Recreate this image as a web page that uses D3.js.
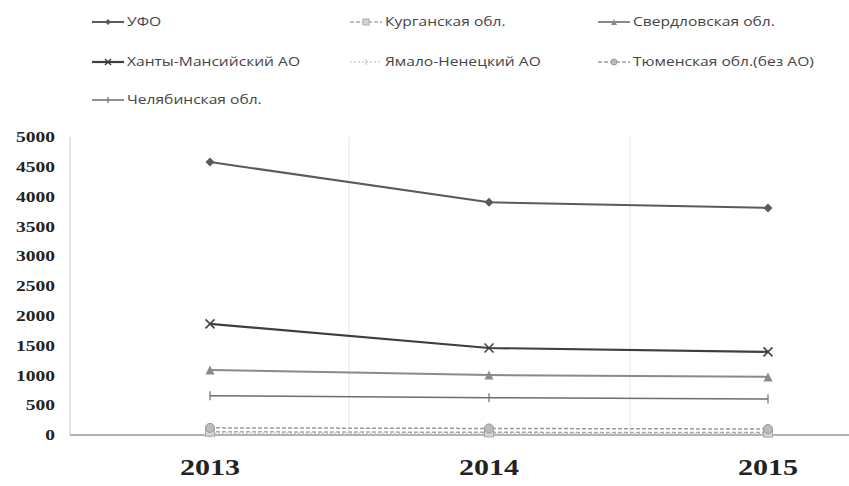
<!DOCTYPE html>
<html>
<head>
<meta charset="utf-8">
<script src="https://cdn.jsdelivr.net/npm/d3@7"></script>
<style>
  body { margin: 0; background: #fff; }
  svg { display: block; }
</style>
</head>
<body>
<div id="plot"></div>
<script>
// data
const years = ["2013", "2014", "2015"];
const seriesNames = ["УФО", "Курганская обл.", "Свердловская обл.", "Ханты-Мансийский АО",
  "Ямало-Ненецкий АО", "Тюменская обл.(без АО)", "Челябинская обл."];
const ufo = [4580, 3905, 3810];
const kurgan = [55, 45, 40];
const sverdl = [1090, 1005, 975];
const hmao = [1865, 1460, 1395];
const yanao = [30, 25, 20];
const tyumen = [120, 110, 100];
const chelyab = [660, 625, 605];
const yTicks = [0, 500, 1000, 1500, 2000, 2500, 3000, 3500, 4000, 4500, 5000];

const values = [ufo, kurgan, sverdl, hmao, yanao, tyumen, chelyab];

const styles = [
  { color: "#5a5a5a", width: 2, dash: null, marker: "diamond" },
  { color: "#aaa", width: 1.5, dash: "4,2", marker: "square" },
  { color: "#8a8a8a", width: 2, dash: null, marker: "triangle" },
  { color: "#3e3e3e", width: 2.2, dash: null, marker: "cross" },
  { color: "#cfcfcf", width: 1.5, dash: "2,2", marker: "plus" },
  { color: "#9a9a9a", width: 1.5, dash: "4,2", marker: "circle" },
  { color: "#6e6e6e", width: 1.5, dash: null, marker: "plus" }
];

const width = 849, height = 486;
const svg = d3.select("#plot").append("svg")
  .attr("width", width).attr("height", height);

const x = d3.scalePoint().domain(years).range([210, 768]);
const y = d3.scaleLinear().domain([0, 5000]).range([435, 137]);

// vertical gridlines between categories
svg.selectAll(".grid")
  .data([349, 630])
  .join("line")
  .attr("x1", d => d).attr("x2", d => d)
  .attr("y1", 137).attr("y2", 435)
  .attr("stroke", "#e4e4e4").attr("stroke-width", 1);

// y axis line
svg.append("line")
  .attr("x1", 70).attr("x2", 70)
  .attr("y1", y(5000)).attr("y2", y(0))
  .attr("stroke", "#c8c8c8");

// y tick labels (stretched bold serif like the original)
svg.selectAll(".ylab")
  .data(yTicks)
  .join("g")
  .attr("transform", d => `translate(55,${y(d)})`)
  .append("text")
  .attr("transform", "scale(1.3,1)")
  .attr("text-anchor", "end")
  .attr("dy", "0.35em")
  .style("font-family", "Liberation Serif, serif")
  .style("font-weight", "bold")
  .style("font-size", "15px")
  .attr("fill", "#222")
  .text(d => d);

// x baseline
svg.append("line")
  .attr("x1", 70).attr("x2", width)
  .attr("y1", y(0)).attr("y2", y(0))
  .attr("stroke", "#999").attr("stroke-width", 1.5);

svg.selectAll(".xlab")
  .data(years)
  .join("g")
  .attr("transform", d => `translate(${x(d)},475)`)
  .append("text")
  .attr("transform", "scale(1.25,1)")
  .attr("text-anchor", "middle")
  .style("font-family", "Liberation Serif, serif")
  .style("font-weight", "bold")
  .style("font-size", "24px")
  .attr("fill", "#222")
  .text(d => d);

function drawMarker(g, type, color, s) {
  if (type === "diamond") {
    g.append("path").attr("d", `M0,${-s / 2}L${s / 2},0L0,${s / 2}L${-s / 2},0Z`)
      .attr("fill", color);
  } else if (type === "square") {
    g.append("rect").attr("x", -s / 2).attr("y", -s / 2).attr("width", s).attr("height", s)
      .attr("fill", "#d4d4d4").attr("stroke", color);
  } else if (type === "triangle") {
    g.append("path").attr("d", `M0,${-s / 2}L${s / 2},${s / 2}L${-s / 2},${s / 2}Z`)
      .attr("fill", color);
  } else if (type === "cross") {
    g.append("path").attr("d", `M${-s / 2},${-s / 2}L${s / 2},${s / 2}M${-s / 2},${s / 2}L${s / 2},${-s / 2}`)
      .attr("stroke", color).attr("stroke-width", 1.5);
  } else if (type === "plus") {
    g.append("path").attr("d", `M0,${-s / 2}L0,${s / 2}`)
      .attr("stroke", color).attr("stroke-width", 1.2);
  } else if (type === "circle") {
    g.append("circle").attr("r", s / 2).attr("fill", "#bbb").attr("stroke", color);
  }
}

const line = d3.line().x((d, i) => x(years[i])).y(d => y(d));

// draw bottom series first so the big ones sit on top
const order = [4, 1, 5, 6, 2, 3, 0];
order.forEach(k => {
  const st = styles[k];
  svg.append("path")
    .datum(values[k])
    .attr("d", line)
    .attr("fill", "none")
    .attr("stroke", st.color)
    .attr("stroke-width", st.width)
    .attr("stroke-dasharray", st.dash);
  values[k].forEach((v, i) => {
    const g = svg.append("g").attr("transform", `translate(${x(years[i])},${y(v)})`);
    drawMarker(g, st.marker, st.color, 9);
  });
});

// legend, 3 columns
const legCols = [92, 350, 598];
const legRows = [22, 62, 100];
seriesNames.forEach((name, k) => {
  const st = styles[k];
  const lx = legCols[k % 3], ly = legRows[Math.floor(k / 3)];
  const g = svg.append("g").attr("transform", `translate(${lx},${ly})`);
  g.append("line").attr("x1", 0).attr("x2", 32).attr("y1", 0).attr("y2", 0)
    .attr("stroke", st.color).attr("stroke-width", st.width)
    .attr("stroke-dasharray", st.dash);
  const mg = g.append("g").attr("transform", "translate(16,0)");
  drawMarker(mg, st.marker, st.color, 6);
  g.append("g").attr("transform", "translate(35,4)")
    .append("text")
    .attr("transform", "scale(1.3,1)")
    .style("font-family", "Open Sans, sans-serif")
    .style("font-size", "12px")
    .attr("fill", "#444")
    .text(name);
});
</script>
</body>
</html>
